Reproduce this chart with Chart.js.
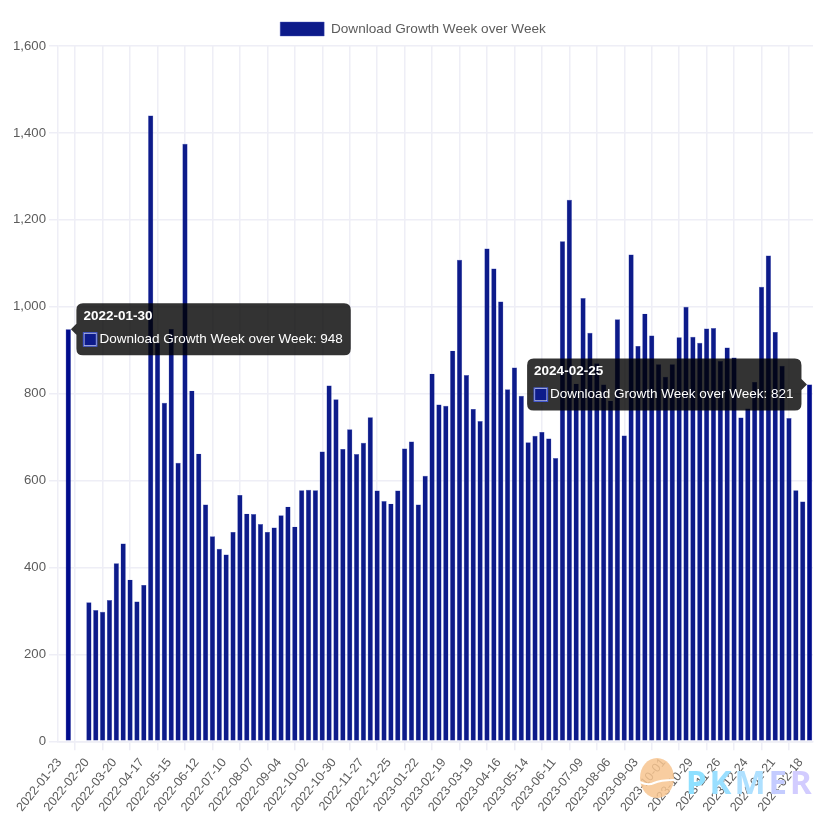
<!DOCTYPE html>
<html>
<head>
<meta charset="utf-8">
<title>Download Growth Week over Week</title>
<script src="https://cdn.jsdelivr.net/npm/chart.js@4"></script>
<style>
  html, body { margin: 0; padding: 0; background: #fff; }
  #wrap { position: relative; width: 836px; height: 826px; overflow: hidden; }
  canvas { display: block; }
  #logo { position: absolute; left: 638px; top: 758px; pointer-events: none; }
  #brand { position: absolute; left: 686px; top: 759px; font: bold 33px "Noto Sans", sans-serif; letter-spacing: 3px; pointer-events: none; }
</style>
</head>
<body>
<div id="wrap">
  <canvas id="chart" width="836" height="826"></canvas>
  <svg id="logo" width="40" height="42" viewBox="0 0 40 42">
    <ellipse cx="19" cy="20" rx="17" ry="20" fill="#f7c48f" opacity="0.85"/>
    <path d="M2 24 q8 4 14 1 t20 -3" stroke="#fff" stroke-width="2" fill="none"/>
  </svg>
  <div id="brand"><span style="color:#8fe0ff">P</span><span style="color:#9adfff">K</span><span style="color:#aee0ff">M</span><span style="color:#c4ccff">E</span><span style="color:#d2ccff">R</span></div>
</div>
<script>
// --- data ---
const weekLabels = [
  '2022-01-23','2022-01-30','2022-02-06','2022-02-13','2022-02-20','2022-02-27','2022-03-06','2022-03-13','2022-03-20','2022-03-27',
  '2022-04-03','2022-04-10','2022-04-17','2022-04-24','2022-05-01','2022-05-08','2022-05-15','2022-05-22','2022-05-29','2022-06-05',
  '2022-06-12','2022-06-19','2022-06-26','2022-07-03','2022-07-10','2022-07-17','2022-07-24','2022-07-31','2022-08-07','2022-08-14',
  '2022-08-21','2022-08-28','2022-09-04','2022-09-11','2022-09-18','2022-09-25','2022-10-02','2022-10-09','2022-10-16','2022-10-23',
  '2022-10-30','2022-11-06','2022-11-13','2022-11-20','2022-11-27','2022-12-04','2022-12-11','2022-12-18','2022-12-25','2023-01-01',
  '2023-01-08','2023-01-15','2023-01-22','2023-01-29','2023-02-05','2023-02-12','2023-02-19','2023-02-26','2023-03-05','2023-03-12',
  '2023-03-19','2023-03-26','2023-04-02','2023-04-09','2023-04-16','2023-04-23','2023-04-30','2023-05-07','2023-05-14','2023-05-21',
  '2023-05-28','2023-06-04','2023-06-11','2023-06-18','2023-06-25','2023-07-02','2023-07-09','2023-07-16','2023-07-23','2023-07-30',
  '2023-08-06','2023-08-13','2023-08-20','2023-08-27','2023-09-03','2023-09-10','2023-09-17','2023-09-24','2023-10-01','2023-10-08',
  '2023-10-15','2023-10-22','2023-10-29','2023-11-05','2023-11-12','2023-11-19','2023-11-26','2023-12-03','2023-12-10','2023-12-17',
  '2023-12-24','2023-12-31','2024-01-07','2024-01-14','2024-01-21','2024-01-28','2024-02-04','2024-02-11','2024-02-18','2024-02-25'
];
const downloadGrowth = [
  null, 948, null, null, 320, 302, 298, 325, 410, 455,
  372, 322, 360, 1440, 917, 779, 949, 641, 1375, 807,
  662, 545, 472, 443, 430, 482, 567, 524, 523, 500,
  482, 492, 520, 540, 494, 578, 579, 578, 667, 819,
  787, 673, 718, 661, 687, 746, 577, 553, 547, 577,
  674, 690, 545, 611, 846, 775, 772, 899, 1108, 843,
  765, 737, 1134, 1088, 1012, 810, 860, 795, 688, 703,
  712, 697, 652, 1151, 1246, 823, 1020, 940, 870, 821,
  784, 971, 704, 1120, 910, 984, 934, 868, 839, 868,
  930, 1000, 931, 917, 950, 951, 875, 906, 883, 745,
  766, 827, 1046, 1118, 942, 864, 744, 578, 552, 821
];
const pinnedWeeks = [1, 109];   // 툴팁이 떠 있는 막대

const barColor = '#0d1b8a';
const barEdge = '#4a58bb';
const activeColor = '#000c8c';
const gridColor = '#eeeef6';

// 툴팁 두 개를 동시에 그리는 플러그인
const pinnedTooltips = {
  id: 'pinnedTooltips',
  afterDraw(chart) {
    const tip = chart.tooltip;
    pinnedWeeks.forEach(index => {
      tip.setActiveElements([{ datasetIndex: 0, index }], { x: 0, y: 0 });
      tip.update();
      tip.draw(chart.ctx);
    });
  }
};

Chart.defaults.font.size = 13.2;
Chart.defaults.font.family = '"Liberation Sans", Arial, sans-serif';
Chart.defaults.color = '#5c5c5c';

new Chart(document.getElementById('chart'), {
  type: 'bar',
  data: {
    labels: weekLabels,
    datasets: [{
      label: 'Download Growth Week over Week',
      data: downloadGrowth,
      backgroundColor: ctx => pinnedWeeks.includes(ctx.dataIndex) ? activeColor : barColor,
      borderColor: ctx => pinnedWeeks.includes(ctx.dataIndex) ? activeColor : barEdge,
      borderWidth: 0.4,
      categoryPercentage: 0.8,
      barPercentage: 0.95
    }]
  },
  plugins: [pinnedTooltips],
  options: {
    responsive: false,
    animation: false,
    events: [],
    layout: { padding: { left: 13, right: 23, top: 10, bottom: 6.5 } },
    scales: {
      x: {
        grid: { color: gridColor, lineWidth: 1.5, tickLength: 9 },
        border: { color: gridColor, width: 1.5 },
        // maxTicksLimit 29: 눈금선이 한 칸씩 건너뛰지 않도록
        ticks: { minRotation: 51, maxRotation: 51, maxTicksLimit: 29, padding: 5, labelOffset: -2, font: { size: 12.5 } }
      },
      y: {
        min: 0,
        max: 1600,
        afterFit: scale => { scale.width = 45; },
        grid: { color: gridColor, lineWidth: 1.5, tickLength: 9 },
        border: { color: gridColor, width: 1.5 },
        ticks: { stepSize: 200, padding: 3 }
      }
    },
    plugins: {
      legend: {
        position: 'top',
        labels: { boxWidth: 44, boxHeight: 14, padding: 12, font: { size: 13.6 } }
      },
      tooltip: {
        enabled: true,
        backgroundColor: 'rgba(0,0,0,0.8)',
        titleFont: { size: 13.5, weight: 'bold' },
        bodyFont: { size: 13.5 },
        padding: { top: 5, bottom: 7.8, left: 7, right: 8 },
        titleMarginBottom: 6.8,
        caretSize: 5.5,
        caretPadding: 2.6,
        cornerRadius: 6.6,
        boxPadding: 0.5,
        multiKeyBackground: '#fff',
        callbacks: {
          labelColor: () => ({ backgroundColor: barColor, borderColor: '#3f55d0', borderWidth: 1.1 })
        }
      }
    }
  }
});
</script>
</body>
</html>
